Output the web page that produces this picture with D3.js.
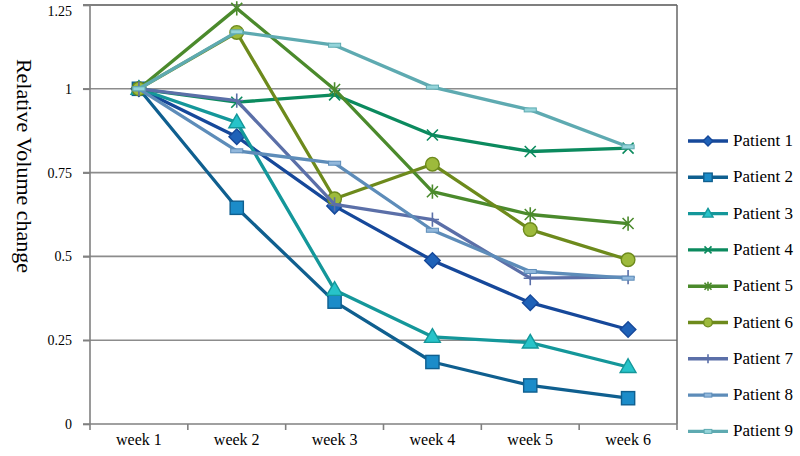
<!DOCTYPE html>
<html>
<head>
<meta charset="utf-8">
<script src="https://cdn.jsdelivr.net/npm/d3@7"></script>
<style>
  body { margin: 0; background: #fff; }
  svg text { font-family: "Liberation Serif", "DejaVu Serif", serif !important; fill: #000; }
</style>
</head>
<body>
<svg id="chart" width="800" height="456"></svg>
<script>
// Data -------------------------------------------------------------
const weeks    = ["week 1", "week 2", "week 3", "week 4", "week 5", "week 6"];
const patients = ["Patient 1", "Patient 2", "Patient 3", "Patient 4", "Patient 5",
                  "Patient 6", "Patient 7", "Patient 8", "Patient 9"];
const yTicks   = [0, 0.25, 0.5, 0.75, 1, 1.25];

const patient1 = [1, 0.857, 0.65, 0.488, 0.362, 0.282];
const patient2 = [1, 0.645, 0.365, 0.185, 0.115, 0.077];
const patient3 = [1, 0.90, 0.40, 0.26, 0.243, 0.17];
const patient4 = [1, 0.96, 0.982, 0.862, 0.813, 0.823];
const patient5 = [1, 1.24, 0.998, 0.693, 0.625, 0.598];
const patient6 = [1, 1.168, 0.672, 0.775, 0.58, 0.49];
const patient7 = [1, 0.965, 0.655, 0.61, 0.435, 0.438];
const patient8 = [1, 0.815, 0.778, 0.578, 0.455, 0.435];
const patient9 = [1, 1.17, 1.13, 1.005, 0.937, 0.827];

const values = [patient1, patient2, patient3, patient4, patient5,
                patient6, patient7, patient8, patient9];

// Style per series (line colour, marker fill, marker kind)
const styles = [
  { line: "#16489a", fill: "#1f62b8", mark: "diamond" },
  { line: "#0f5f8f", fill: "#1b8cc9", mark: "square" },
  { line: "#14979a", fill: "#27c3c9", mark: "triangle" },
  { line: "#0b8a5e", fill: "#0b8a5e", mark: "x" },
  { line: "#4b8a2c", fill: "#4b8a2c", mark: "star" },
  { line: "#6d8a1c", fill: "#9dba3c", mark: "circle" },
  { line: "#5b6fa8", fill: "#5b6fa8", mark: "plus" },
  { line: "#5d8cb9", fill: "#92b8dc", mark: "dash" },
  { line: "#5eaab1", fill: "#94d4da", mark: "dash" }
];

const serif = "'Liberation Serif', 'DejaVu Serif', serif";

// Layout -----------------------------------------------------------
const plot = { left: 90, right: 677, top: 5, bottom: 424 };
const svg = d3.select("#chart");

const x = d3.scaleBand().domain(weeks).range([plot.left, plot.right]);
const y = d3.scaleLinear().domain([0, 1.25]).range([plot.bottom, plot.top]);
const cx = d => x(d) + x.bandwidth() / 2;

// Gridlines + frame ------------------------------------------------
svg.append("g").selectAll("line")
  .data(yTicks.filter(t => t > 0))
  .join("line")
    .attr("x1", plot.left - 7).attr("x2", plot.right)
    .attr("y1", d => y(d)).attr("y2", d => y(d))
    .attr("stroke", d => d === 1.25 ? "#555" : "#8c8c8c")
    .attr("stroke-width", 1.6);

svg.append("line")
  .attr("x1", plot.right).attr("x2", plot.right)
  .attr("y1", plot.top).attr("y2", plot.bottom)
  .attr("stroke", "#666").attr("stroke-width", 1.5);

// Axes -------------------------------------------------------------
const yAxis = svg.append("g")
  .attr("transform", `translate(${plot.left},0)`)
  .attr("font-family", serif)
  .call(d3.axisLeft(y).tickValues(yTicks).tickSize(7).tickPadding(11)
    .tickFormat(d => String(d)));
yAxis.select(".domain").attr("stroke", "#808080").attr("stroke-width", 1.6)
  .attr("d", `M0,${plot.top}V${plot.bottom + 6}`);
yAxis.selectAll(".tick line").attr("stroke", "#808080").attr("stroke-width", 1.6);
yAxis.selectAll(".tick text")
  .style("font-size", "14px").style("font-family", serif)
  .attr("dy", d => d === 1.25 ? "0.75em" : "0.32em");

const xAxis = svg.append("g")
  .attr("transform", `translate(0,${plot.bottom})`);
xAxis.append("line")
  .attr("x1", plot.left - 7).attr("x2", plot.right)
  .attr("stroke", "#808080").attr("stroke-width", 1.6);
xAxis.selectAll("line.tick")
  .data(weeks.slice(1).concat(["end"]))
  .join("line").attr("class", "tick")
    .attr("x1", d => d === "end" ? plot.right : x(d))
    .attr("x2", d => d === "end" ? plot.right : x(d))
    .attr("y1", 0).attr("y2", 6)
    .attr("stroke", "#808080").attr("stroke-width", 1.6);
xAxis.selectAll("text")
  .data(weeks)
  .join("text")
    .attr("x", d => cx(d)).attr("y", 21)
    .attr("text-anchor", "middle")
    .style("font-size", "16px").style("font-family", serif)
    .text(d => d);

// Y title ----------------------------------------------------------
svg.append("text")
  .attr("transform", "translate(17,166) rotate(90)")
  .attr("text-anchor", "middle")
  .style("font-size", "22px").style("font-family", serif)
  .text("Relative Volume change");

// Marker drawing ---------------------------------------------------
function marker(g, st, s) {
  const lw = 1.4;
  switch (st.mark) {
    case "diamond":
      g.append("rect").attr("x", -s * 0.5).attr("y", -s * 0.5)
        .attr("width", s).attr("height", s).attr("transform", "rotate(45)")
        .attr("fill", st.fill).attr("stroke", st.line).attr("stroke-width", lw);
      break;
    case "square":
      g.append("rect").attr("x", -s * 0.6).attr("y", -s * 0.6)
        .attr("width", s * 1.2).attr("height", s * 1.2)
        .attr("fill", st.fill).attr("stroke", st.line).attr("stroke-width", lw);
      break;
    case "triangle":
      g.append("path")
        .attr("d", `M0,${-s * 0.75}L${s * 0.72},${s * 0.5}L${-s * 0.72},${s * 0.5}Z`)
        .attr("fill", st.fill).attr("stroke", st.line).attr("stroke-width", lw);
      break;
    case "circle":
      g.append("circle").attr("r", s * 0.62)
        .attr("fill", st.fill).attr("stroke", st.line).attr("stroke-width", lw);
      break;
    case "x":
      g.append("path")
        .attr("d", `M${-s/2},${-s/2}L${s/2},${s/2}M${-s/2},${s/2}L${s/2},${-s/2}`)
        .attr("stroke", st.line).attr("stroke-width", 1.6).attr("fill", "none");
      break;
    case "star":
      g.append("path")
        .attr("d", `M${-s/2},${-s/2}L${s/2},${s/2}M${-s/2},${s/2}L${s/2},${-s/2}M0,${-s*0.65}V${s*0.65}`)
        .attr("stroke", st.line).attr("stroke-width", 1.6).attr("fill", "none");
      break;
    case "plus":
      g.append("path")
        .attr("d", `M${-s*0.6},0H${s*0.6}M0,${-s*0.65}V${s*0.65}`)
        .attr("stroke", st.line).attr("stroke-width", 1.6).attr("fill", "none");
      break;
    case "dash":
      g.append("rect").attr("x", -s * 0.55).attr("y", -2)
        .attr("width", s * 1.1).attr("height", 4)
        .attr("fill", st.fill).attr("stroke", st.line).attr("stroke-width", 1);
      break;
  }
}

// Series -----------------------------------------------------------
const line = d3.line().x((d, i) => cx(weeks[i])).y(d => y(d));

values.forEach((vals, k) => {
  const st = styles[k];
  const g = svg.append("g").attr("class", "series");
  g.append("path")
    .attr("d", line(vals))
    .attr("fill", "none")
    .attr("stroke", st.line)
    .attr("stroke-width", 3.3)
    .attr("stroke-linejoin", "round");
  g.selectAll("g.m")
    .data(vals)
    .join("g").attr("class", "m")
      .attr("transform", (d, i) => `translate(${cx(weeks[i])},${y(d)})`)
      .each(function() { marker(d3.select(this), st, 11); });
});

// Legend -----------------------------------------------------------
const legend = svg.append("g").attr("transform", "translate(688,141)");
const item = legend.selectAll("g")
  .data(patients)
  .join("g")
    .attr("transform", (d, i) => `translate(0,${i * 36.3})`);

item.append("line")
  .attr("x1", 0).attr("x2", 40)
  .attr("stroke", (d, i) => styles[i].line)
  .attr("stroke-width", 3.4);
item.each(function(d, i) {
  const m = d3.select(this).append("g").attr("transform", "translate(20,0)");
  marker(m, styles[i], 7);
});
item.append("text")
  .attr("x", 45).attr("y", 5)
  .style("font-size", "17px").style("font-family", serif)
  .text(d => d);
</script>
</body>
</html>
